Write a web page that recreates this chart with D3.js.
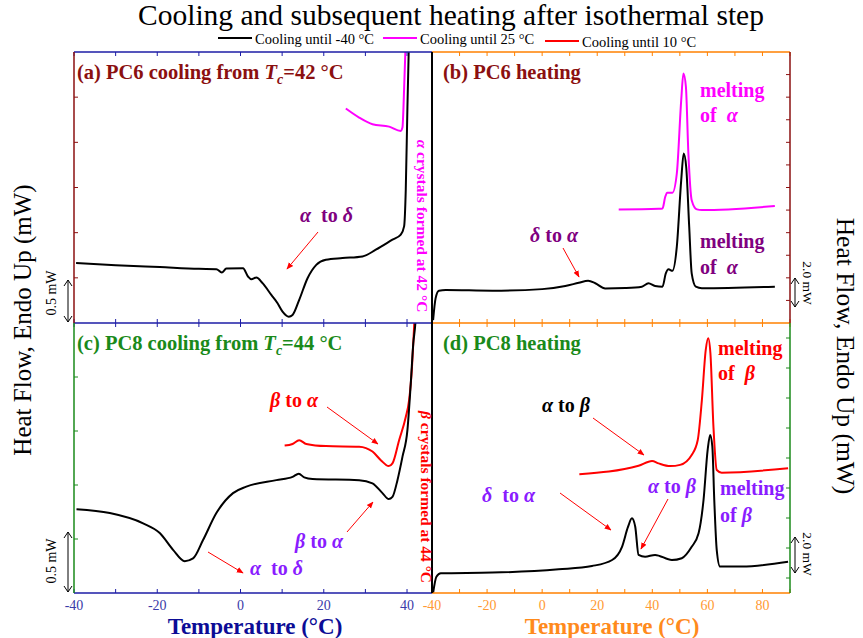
<!DOCTYPE html>
<html>
<head>
<meta charset="utf-8">
<script src="https://cdn.jsdelivr.net/npm/d3@7"></script>
<style>
  html, body { margin: 0; padding: 0; background: #fff; }
  svg text { font-family: "Liberation Serif", "Times New Roman", serif; }
</style>
</head>
<body>
<svg id="chart" width="863" height="638"></svg>
<script>
// ---- data: DSC traces, [temperature °C, heat flow (arbitrary offset, panel units)] ----
const tempTicksLeft = [-40, -20, 0, 20, 40];
const tempTicksRight = [-40, -20, 0, 20, 40, 60, 80];

const legendLabels = ["Cooling until -40 °C", "Cooling until 25 °C", "Cooling until 10 °C"];
const legendColors = ["#000000", "#ff00ff", "#ff0000"];

// (a) PC6 cooling from Tc = 42 °C
const pc6CoolTo40 = [[-39.5,0.663],[-30,0.64],[-19.4,0.619],[-10,0.60],[-5.8,0.596],[-4.5,0.559],[-3.4,0.603],
  [0.6,0.607],[1.8,0.515],[2.6,0.485],[3.8,0.504],[5.3,0.441],[7.4,0.311],[8.9,0.219],[10.1,0.126],
  [11.6,0.07],[12.5,0.089],[14.1,0.256],[16.1,0.496],[18.2,0.644],[20.5,0.70],[24.5,0.719],[29.3,0.737],
  [32.5,0.811],[36.5,0.922],[38.5,0.978],[39.3,1.07],[39.7,1.478],[40.1,2.40],[40.5,3.2]];
const pc6CoolTo25 = [[25.3,2.374],[28.5,2.274],[31.7,2.2],[35.7,2.174],[38.5,2.126],[38.9,2.163],[39.3,2.589],[39.7,3.14]];

// (b) PC6 heating
const pc6HeatAfter40 = [[-39.6,0.13],[-38.7,1.09],[-37.5,1.43],[-35,1.46],[-18.1,1.43],[0,1.50],[8.4,1.64],
  [13.3,1.78],[16.7,1.87],[19.3,1.76],[22.9,1.53],[30.2,1.55],[36.2,1.61],[38.6,1.76],[41.0,1.64],[43.7,1.61],
  [44.9,2.20],[45.9,2.38],[47.3,2.31],[48.9,3.38],[50.5,6.33],[51.4,7.51],[52.3,6.92],[53.4,4.26],[54.3,2.20],
  [55.8,1.61],[58,1.54],[84.5,1.61]];
const pc6HeatAfter25 = [[27.8,5.03],[42.3,5.06],[43.7,5.07],[44.7,5.59],[45.4,5.77],[47.3,5.77],[48.9,6.62],
  [50.5,9.87],[51.3,11.05],[52.2,10.46],[53.1,7.51],[54.3,5.44],[56.2,5.03],[58,5.0],[84.5,5.18]];

// (c) PC8 cooling from Tc = 44 °C
const pc8CoolTo40 = [[-39.4,1.55],[-31.4,1.48],[-23.4,1.29],[-19.4,1.11],[-16.2,0.80],[-13.4,0.59],[-11.4,0.64],
  [-9.0,0.98],[-5.8,1.48],[-1.8,1.85],[1.4,1.97],[8.6,2.09],[12.5,2.15],[14.0,2.21],[15.3,2.14],[17.3,2.11],
  [28.5,2.09],[31.7,2.03],[34.1,1.85],[35.6,1.74],[36.5,1.78],[37.7,2.09],[38.9,2.52],[40.1,3.02],[40.9,3.88],
  [41.5,4.62],[42.0,4.99],[42.3,5.4]];
const pc8CoolTo10 = [[10.6,2.73],[12.5,2.76],[14.1,2.83],[15.8,2.76],[20.5,2.72],[28.5,2.71],[31.7,2.62],
  [33.7,2.46],[35.6,2.35],[36.5,2.40],[38.1,2.83],[39.7,3.26],[40.5,3.57],[41.2,4.19],[41.7,4.93],[42.0,5.4]];

// (d) PC8 heating
const pc8HeatAfter40 = [[-39.6,-0.5],[-38.4,0.04],[-36.8,0.16],[-18.1,0.18],[6.0,0.29],[18.1,0.40],[25.4,0.60],
  [29.0,1.04],[31.2,1.71],[32.6,1.99],[33.8,1.71],[35.0,0.77],[37.4,0.71],[41.0,0.77],[47.1,0.60],[50.7,0.66],
  [54.3,1.04],[56.8,1.49],[58.6,2.60],[60.1,4.27],[61.0,4.77],[61.8,4.38],[62.5,2.60],[63.4,0.93],[64.6,0.38],
  [72.5,0.38],[89.3,0.54]];
const pc8HeatAfter10 = [[13.5,3.46],[35.0,3.74],[39.9,3.90],[42.3,3.82],[46.5,3.73],[50.1,3.77],[54.3,4.10],
  [56.5,4.60],[58.0,5.93],[59.4,7.60],[60.3,7.99],[61.1,7.49],[62.2,5.04],[63.4,3.60],[65.2,3.51],[89.3,3.66]];

// ---- colours ----
const C = {
  navy: "#1c1ca6", navyText: "#3a3aa8", navyTitle: "#0c0c96",
  orange: "#ff8000", orangeText: "#ff9a33", orangeTitle: "#ff8a1c",
  darkRed: "#8b1010", green: "#1a8a1a",
  purple: "#800080", violet: "#8a1cff", magenta: "#ff00ff", red: "#ff0000"
};

const svg = d3.select("#chart");
const X0 = 74, X1 = 432, X2 = 790, Y0 = 52, Y1 = 323, Y2 = 593;

const xLeft = d3.scaleLinear().domain([-40, 46]).range([X0, X1]);
const xRight = d3.scaleLinear().domain([-40, 90]).range([X1, X2]);
const yA = d3.scaleLinear().domain([0, 3]).range([Y1, Y0]);
const yB = d3.scaleLinear().domain([0, 12]).range([Y1, Y0]);
const yC = d3.scaleLinear().domain([0, 5]).range([Y2, Y1]);
const yD = d3.scaleLinear().domain([-0.5, 8.5]).range([Y2, Y1]);

const defs = svg.append("defs");
function clip(id, x, y, w, h) {
  defs.append("clipPath").attr("id", id).append("rect").attr("x", x).attr("y", y).attr("width", w).attr("height", h);
}
clip("cA", X0, Y0, X1 - X0, Y1 - Y0);
clip("cB", X1, Y0, X2 - X1, Y1 - Y0);
clip("cC", X0, Y1, X1 - X0, Y2 - Y1);
clip("cD", X1, Y1, X2 - X1, Y2 - Y1);

defs.append("marker").attr("id", "arrowRed").attr("viewBox", "0 0 10 10")
  .attr("refX", 9).attr("refY", 5).attr("markerWidth", 7).attr("markerHeight", 7)
  .attr("markerUnits", "userSpaceOnUse").attr("orient", "auto")
  .append("path").attr("d", "M0,1 L10,5 L0,9 Z").attr("fill", C.red);

// ---- curves ----
function trace(data, xs, ys, color, clipId) {
  const line = d3.line().x(d => xs(d[0])).y(d => ys(d[1])).curve(d3.curveMonotoneX);
  svg.append("path").datum(data).attr("d", line).attr("fill", "none")
    .attr("stroke", color).attr("stroke-width", 2).attr("stroke-linejoin", "round")
    .attr("clip-path", `url(#${clipId})`);
}
trace(pc6CoolTo25, xLeft, yA, C.magenta, "cA");
trace(pc6CoolTo40, xLeft, yA, "#000", "cA");
trace(pc6HeatAfter25, xRight, yB, C.magenta, "cB");
trace(pc6HeatAfter40, xRight, yB, "#000", "cB");
trace(pc8CoolTo10, xLeft, yC, C.red, "cC");
trace(pc8CoolTo40, xLeft, yC, "#000", "cC");
trace(pc8HeatAfter10, xRight, yD, C.red, "cD");
trace(pc8HeatAfter40, xRight, yD, "#000", "cD");

// ---- axes (ticks pointing inward) ----
function xTicks(xs, yPos, dir, color, step) {
  const [a, b] = xs.domain();
  const ticks = d3.range(Math.ceil(a / step) * step, b + 0.001, step);
  svg.append("g").selectAll("line").data(ticks).join("line")
    .attr("x1", d => xs(d)).attr("x2", d => xs(d))
    .attr("y1", yPos).attr("y2", yPos + dir * 4)
    .attr("stroke", color).attr("stroke-width", 1);
}
function yTicks(ys, xPos, dir, color, values) {
  svg.append("g").selectAll("line").data(values).join("line")
    .attr("y1", d => ys(d)).attr("y2", d => ys(d))
    .attr("x1", xPos).attr("x2", xPos + dir * 4)
    .attr("stroke", color).attr("stroke-width", 1);
}
function seg(x1, y1, x2, y2, color, w) {
  svg.append("line").attr("x1", x1).attr("y1", y1).attr("x2", x2).attr("y2", y2)
    .attr("stroke", color).attr("stroke-width", w || 1.5);
}

// x ticks every 10 °C
xTicks(xLeft, Y0, 1, C.navy, 10);
xTicks(xLeft, Y1, -1, C.navy, 10);
xTicks(xLeft, Y1, 1, C.navy, 10);
xTicks(xLeft, Y2, -1, C.navy, 10);
xTicks(xRight, Y0, 1, C.orange, 10);
xTicks(xRight, Y1, -1, C.orange, 10);
xTicks(xRight, Y1, 1, C.orange, 10);
xTicks(xRight, Y2, -1, C.orange, 10);

yTicks(yA, X0, 1, C.darkRed, d3.range(0.5, 3, 0.5));
yTicks(yB, X2, -1, C.darkRed, d3.range(1, 12, 1));
yTicks(yC, X0, 1, C.green, d3.range(1, 5, 1));
yTicks(yD, X2, -1, C.green, d3.range(0, 9, 1));

// frame lines
seg(X0, Y0, X1, Y0, C.navy);
seg(X0, Y1, X1, Y1, C.navy);
seg(X0, Y2, X1, Y2, C.navy);
seg(X1, Y0, X2, Y0, C.orange);
seg(X1, Y1, X2, Y1, C.orange);
seg(X1, Y2, X2, Y2, C.orange);
seg(X0, Y0, X0, Y1, C.darkRed);
seg(X0, Y1, X0, Y2, C.green);
seg(X2, Y0, X2, Y1, C.darkRed);
seg(X2, Y1, X2, Y2, C.green);
seg(X1, Y0, X1, Y2, "#000", 2);

// tick labels
svg.append("g").selectAll("text").data(tempTicksLeft).join("text")
  .attr("x", d => xLeft(d)).attr("y", 610).attr("text-anchor", "middle")
  .attr("font-size", 14).attr("fill", C.navyText).text(d => d);
svg.append("g").selectAll("text").data(tempTicksRight).join("text")
  .attr("x", d => xRight(d)).attr("y", 610).attr("text-anchor", "middle")
  .attr("font-size", 14).attr("fill", C.orangeText).text(d => d);

svg.append("text").attr("x", 255).attr("y", 634).attr("text-anchor", "middle")
  .attr("font-size", 23).attr("font-weight", "bold").attr("fill", C.navyTitle).text("Temperature (°C)");
svg.append("text").attr("x", 612).attr("y", 634).attr("text-anchor", "middle")
  .attr("font-size", 23).attr("font-weight", "bold").attr("fill", C.orangeTitle).text("Temperature (°C)");

// ---- title & legend ----
svg.append("text").attr("x", 451).attr("y", 25).attr("text-anchor", "middle")
  .attr("font-size", 29.5).attr("fill", "#000").text("Cooling and subsequent heating after isothermal step");

const legendX = [218, 383, 545];
const legendDy = [0, 0, 3];
legendLabels.forEach((lab, i) => {
  seg(legendX[i], 38 + legendDy[i], legendX[i] + 34, 38 + legendDy[i], legendColors[i], 2);
  svg.append("text").attr("x", legendX[i] + 37).attr("y", 44 + legendDy[i])
    .attr("font-size", 14.5).attr("fill", "#000").text(lab);
});

// ---- side labels ----
svg.append("text").attr("transform", "translate(22,320) rotate(-90)").attr("text-anchor", "middle")
  .attr("dy", "0.35em").attr("font-size", 25).text("Heat Flow, Endo Up (mW)");
svg.append("text").attr("transform", "translate(846,356) rotate(90)").attr("text-anchor", "middle")
  .attr("dy", "0.35em").attr("font-size", 25.5).text("Heat Flow, Endo Up (mW)");

// scale bars
function doubleArrow(x, y1, y2) {
  seg(x, y1, x, y2, "#000", 1);
  const h = 4;
  svg.append("path").attr("d", `M${x - h},${y1 + 6} L${x},${y1} L${x + h},${y1 + 6} M${x - h},${y2 - 6} L${x},${y2} L${x + h},${y2 - 6}`)
    .attr("fill", "none").attr("stroke", "#000").attr("stroke-width", 1);
}
doubleArrow(68, 280, 322);
doubleArrow(68, 532, 592);
doubleArrow(795, 278, 307);
doubleArrow(795, 537, 573);
function sideNote(x, y, angle, txt, size) {
  svg.append("text").attr("transform", `translate(${x},${y}) rotate(${angle})`).attr("text-anchor", "middle")
    .attr("dy", "0.35em").attr("font-size", size).text(txt);
}
sideNote(51, 293, -90, "0.5 mW", 14);
sideNote(51, 561, -90, "0.5 mW", 14);
sideNote(808, 283, 90, "2.0 mW", 13.5);
sideNote(808, 554, 90, "2.0 mW", 13.5);

// ---- panel titles ----
function panelTitle(x, y, color, parts) {
  const t = svg.append("text").attr("x", x).attr("y", y).attr("font-size", 20.5)
    .attr("font-weight", "bold").attr("fill", color);
  parts.forEach(p => {
    const s = t.append("tspan").text(p.t);
    if (p.i) s.attr("font-style", "italic");
    if (p.sub) s.attr("font-size", 14).attr("dy", 5);
    if (p.up) s.attr("dy", -5);
  });
}
panelTitle(77, 79, C.darkRed, [{t: "(a) PC6 cooling from "}, {t: "T", i: true}, {t: "c", i: true, sub: true}, {t: "=42 °C", up: true}]);
panelTitle(443, 79, C.darkRed, [{t: "(b) PC6 heating"}]);
panelTitle(77, 350, C.green, [{t: "(c) PC8 cooling from "}, {t: "T", i: true}, {t: "c", i: true, sub: true}, {t: "=44 °C", up: true}]);
panelTitle(443, 350, C.green, [{t: "(d) PC8 heating"}]);

// ---- annotations ----
const greek = new Set(["α", "β", "δ"]);
function note(x, y, color, str, size) {
  const t = svg.append("text").attr("x", x).attr("y", y).attr("font-size", size || 20)
    .attr("font-weight", "bold").attr("fill", color).attr("xml:space", "preserve");
  str.split(/(α|β|δ)/).filter(s => s.length).forEach(s => {
    const sp = t.append("tspan").text(s);
    if (greek.has(s)) sp.attr("font-style", "italic");
  });
}
function arrow(x1, y1, x2, y2) {
  svg.append("line").attr("x1", x1).attr("y1", y1).attr("x2", x2).attr("y2", y2)
    .attr("stroke", C.red).attr("stroke-width", 1).attr("marker-end", "url(#arrowRed)");
}

// (a)
note(300, 222, C.purple, "α  to δ");
arrow(318, 232, 287, 269);
svg.append("text").attr("transform", "translate(422,226) rotate(90)").attr("text-anchor", "middle")
  .attr("dy", "0.35em").attr("font-size", 15.5).attr("font-weight", "bold").attr("fill", C.magenta)
  .call(t => { t.append("tspan").attr("font-style", "italic").text("α"); t.append("tspan").text(" crystals formed at 42 °C"); });

// (b)
note(700, 97, C.magenta, "melting");
note(700, 122, C.magenta, "of  α");
note(530, 242, C.purple, "δ to α");
arrow(563, 248, 579, 277);
note(700, 248, C.purple, "melting");
note(700, 274, C.purple, "of  α");

// (c)
note(270, 407, C.red, "β to α");
arrow(327, 407, 378, 444);
note(295, 548, C.violet, "β to α");
arrow(347, 532, 373, 502);
note(250, 575, C.violet, "α  to δ");
arrow(208, 552, 243, 573);
svg.append("text").attr("transform", "translate(426,497) rotate(90)").attr("text-anchor", "middle")
  .attr("dy", "0.35em").attr("font-size", 15.5).attr("font-weight", "bold").attr("fill", C.red)
  .call(t => { t.append("tspan").attr("font-style", "italic").text("β"); t.append("tspan").text(" crystals formed at 44 °C"); });

// (d)
note(718, 355, C.red, "melting");
note(718, 380, C.red, "of  β");
note(542, 412, "#000", "α to β");
arrow(593, 418, 644, 455);
note(482, 502, C.violet, "δ  to α");
arrow(560, 493, 611, 530);
note(648, 493, C.violet, "α to β");
arrow(668, 499, 641, 549);
note(720, 495, C.violet, "melting");
note(720, 522, C.violet, "of β");
</script>
</body>
</html>
